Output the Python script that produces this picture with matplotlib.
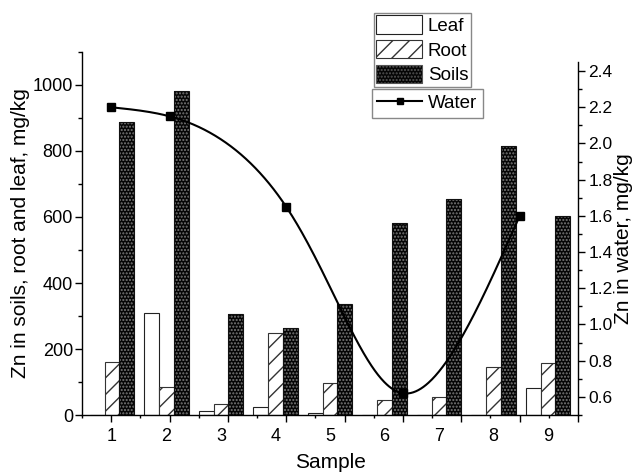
import numpy as np
import matplotlib
matplotlib.use("Agg")
import matplotlib.pyplot as plt
from matplotlib.patches import Patch
from matplotlib.lines import Line2D

plt.rcParams['font.family'] = ['Liberation Sans', 'DejaVu Sans']

samples = [1, 2, 3, 4, 5, 6, 7, 8, 9]
leaf = [0, 308, 13, 23, 5, 0, 0, 0, 83]
root = [160, 86, 32, 250, 98, 45, 55, 146, 157]
soils = [889, 982, 305, 263, 336, 583, 655, 816, 604]

water_x = [1, 2, 4, 6, 8]
water = [2.20, 2.15, 1.65, 0.62, 1.60]


def natural_spline_1d(t, v, ts):
    t = np.asarray(t, float)
    v = np.asarray(v, float)
    m = len(t)
    h = np.diff(t)
    A = np.zeros((m, m))
    b = np.zeros(m)
    A[0, 0] = 1
    A[-1, -1] = 1
    for i in range(1, m - 1):
        A[i, i - 1] = h[i - 1]
        A[i, i] = 2 * (h[i - 1] + h[i])
        A[i, i + 1] = h[i]
        b[i] = 6 * ((v[i + 1] - v[i]) / h[i] - (v[i] - v[i - 1]) / h[i - 1])
    M = np.linalg.solve(A, b)
    idx = np.clip(np.searchsorted(t, ts) - 1, 0, m - 2)
    t0, t1 = t[idx], t[idx + 1]
    hh = t1 - t0
    a0 = t1 - ts
    a1 = ts - t0
    return (M[idx] * a0 ** 3 / (6 * hh) + M[idx + 1] * a1 ** 3 / (6 * hh)
            + (v[idx] / hh - M[idx] * hh / 6) * a0
            + (v[idx + 1] / hh - M[idx + 1] * hh / 6) * a1)


def smooth_curve(ax, x, y, n=400):
    # parametric spline in display space, mapped back through the axes transform
    pts = ax.transData.transform(np.column_stack([x, y]))
    d = np.sqrt((np.diff(pts, axis=0) ** 2).sum(axis=1))
    t = np.concatenate([[0], np.cumsum(d)])
    ts = np.linspace(0, t[-1], n)
    px = natural_spline_1d(t, pts[:, 0], ts)
    py = natural_spline_1d(t, pts[:, 1], ts)
    back = ax.transData.inverted().transform(np.column_stack([px, py]))
    return back[:, 0], back[:, 1]


W, H = 633, 473
fig = plt.figure(figsize=(W / 100, H / 100), dpi=100)

L, R, B = 82, 578, 415
ax1 = fig.add_axes([L / W, (H - B) / H, (R - L) / W, (B - 52) / H])
ax2 = fig.add_axes([L / W, (H - B) / H, (R - L) / W, (B - 62) / H])
ax2.patch.set_visible(False)

x = np.array(samples, float)
bw = 0.27
ax1.bar(x - bw, leaf, bw, facecolor='white', edgecolor='#222222', linewidth=0.8)
ax1.bar(x, root, bw, facecolor='white', edgecolor='#333333', hatch='//', linewidth=0.8)
ax1.bar(x + bw, soils, bw, facecolor='#050505', edgecolor='#7a7a7a', hatch='.....', linewidth=0)
ax1.bar(x + bw, soils, bw, fill=False, edgecolor='#111111', linewidth=0.8)

ax1.set_xlim(0.45, 9.55)
ax1.set_ylim(0, 1100)
ax1.set_xticks(samples)
ax1.set_xticklabels([str(s) for s in samples])
ax1.tick_params(axis='x', length=0, labelsize=13, pad=9)
ax1.set_yticks(np.arange(0, 1001, 200))
ax1.set_yticks(np.arange(0, 1101, 100), minor=True)
ax1.tick_params(axis='y', which='major', direction='out', length=5, width=1, labelsize=13, pad=1.5)
ax1.tick_params(axis='y', which='minor', direction='out', length=3, width=1)
for s in ['top', 'right']:
    ax1.spines[s].set_visible(False)
ax1.spines['left'].set_linewidth(1)
ax1.spines['bottom'].set_linewidth(1)
ax1.set_ylabel('Zn in soils, root and leaf, mg/kg', fontsize=15, labelpad=2)
ax1.set_xlabel('Sample', fontsize=15, labelpad=6)

ax2.set_xlim(0.5, 9.0)
ax2.set_ylim(0.5, 2.45)
xs, ys = smooth_curve(ax2, water_x, water)
ax2.plot(xs, ys, color='black', linewidth=1.5)
ax2.plot(water_x, water, linestyle='none', marker='s', markersize=6, color='black')
ax2.set_xlim(0.5, 9.0)
ax2.set_ylim(0.5, 2.45)
ax2.set_xticks(np.arange(1, 10))
ax2.set_xticks(np.arange(0.5, 9.01, 0.5), minor=True)
ax2.tick_params(axis='x', which='major', direction='out', length=5, width=1, labelbottom=False)
ax2.tick_params(axis='x', which='minor', direction='out', length=2.5, width=1)
ax2.yaxis.tick_right()
ax2.yaxis.set_label_position('right')
ax2.set_yticks(np.arange(0.6, 2.41, 0.2))
ax2.set_yticks(np.arange(0.5, 2.451, 0.1), minor=True)
ax2.set_yticklabels(['%.1f' % v for v in np.arange(0.6, 2.41, 0.2)])
ax2.tick_params(axis='y', which='major', direction='out', length=5, width=1, labelsize=12.5, pad=2.5)
ax2.tick_params(axis='y', which='minor', direction='out', length=3, width=1)
for s in ['top', 'left']:
    ax2.spines[s].set_visible(False)
ax2.spines['bottom'].set_visible(False)
ax2.spines['right'].set_linewidth(1)
ax2.set_ylabel('Zn in water, mg/kg', fontsize=15, labelpad=1)

h1 = [Patch(facecolor='white', edgecolor='#222222', linewidth=0.8),
      Patch(facecolor='white', edgecolor='#333333', hatch='//', linewidth=0.8),
      Patch(facecolor='#050505', edgecolor='#555555', hatch='.....', linewidth=0.8)]
leg1 = fig.legend(h1, ['Leaf', 'Root', 'Soils'], loc='upper left',
                  bbox_to_anchor=(374 / W, 1 - 12.7 / H), bbox_transform=fig.transFigure,
                  fontsize=13.5, frameon=True, fancybox=False, edgecolor='#888888',
                  framealpha=1, borderpad=0.12, labelspacing=0.28, handlelength=2.45,
                  handleheight=1.15, handletextpad=0.3, borderaxespad=0)
leg1.get_frame().set_linewidth(1)
h2 = [Line2D([0], [0], color='black', linewidth=1.5, marker='s', markersize=5)]
leg2 = fig.legend(h2, ['Water'], loc='upper left',
                  bbox_to_anchor=(371.7 / W, 1 - 89.3 / H), bbox_transform=fig.transFigure,
                  fontsize=13.5, frameon=True, fancybox=False, edgecolor='#888888',
                  framealpha=1, borderpad=0.3, handlelength=2.4, handletextpad=0.3,
                  borderaxespad=0)
leg2.get_frame().set_linewidth(1)

fig.savefig('out.png', dpi=100)
